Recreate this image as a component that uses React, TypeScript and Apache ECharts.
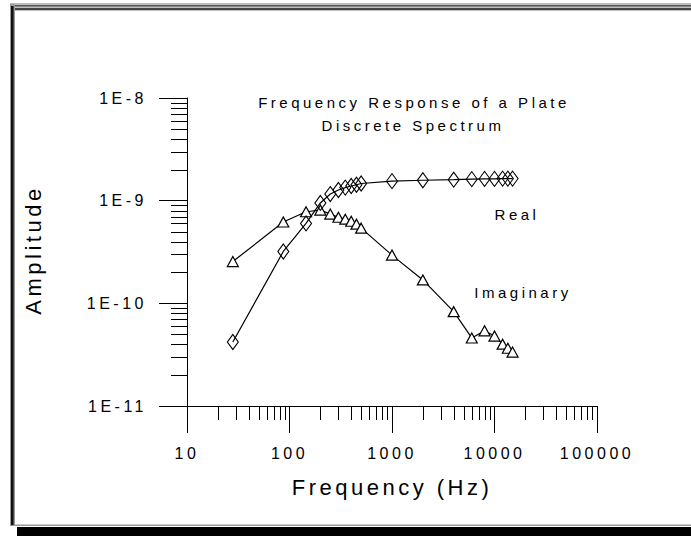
import React, { useEffect, useRef } from "react";
import * as echarts from "echarts";

// Frequencies (Hz) shared by both series
const frequencies = [28, 87, 145, 200, 250, 300, 350, 400, 450, 500, 1000, 2000, 4000, 6000, 8000, 10000, 12000, 13500, 15000];
// Real part amplitude
const realAmp = [4.2e-11, 3.2e-10, 6.0e-10, 9.5e-10, 1.16e-9, 1.27e-9, 1.34e-9, 1.39e-9, 1.43e-9, 1.47e-9, 1.55e-9, 1.58e-9, 1.6e-9, 1.62e-9, 1.63e-9, 1.63e-9, 1.64e-9, 1.64e-9, 1.64e-9];
// Imaginary part amplitude
const imagAmp = [2.55e-10, 6.2e-10, 7.8e-10, 8.1e-10, 7.4e-10, 6.9e-10, 6.6e-10, 6.3e-10, 5.9e-10, 5.4e-10, 2.95e-10, 1.69e-10, 8.3e-11, 4.6e-11, 5.4e-11, 4.8e-11, 4.0e-11, 3.65e-11, 3.35e-11];

const xTickLabels = ["10", "100", "1000", "10000", "100000"];
const yTickLabels = ["1E-11", "1E-10", "1E-9", "1E-8"];
const xDecades = [10, 100, 1000, 10000];
const yDecades = [1e-11, 1e-10, 1e-9];
const minorMultipliers = [2, 3, 4, 5, 6, 7, 8, 9];

const X_MIN = 10;
const X_MAX = 100000;
const Y_MIN = 1e-11;
const Y_MAX = 1e-8;

const FONT = "'Liberation Sans', Arial, sans-serif";

export default function App() {
  const ref = useRef<HTMLDivElement>(null);

  useEffect(() => {
    if (!ref.current) return;
    const chart = echarts.init(ref.current, null, { renderer: "svg" });

    const xMinor: number[][] = [];
    xDecades.forEach((d) => minorMultipliers.forEach((m) => xMinor.push([d * m, Y_MIN])));
    const yMinor: number[][] = [];
    yDecades.forEach((d) => minorMultipliers.forEach((m) => yMinor.push([X_MIN, d * m])));

    const realData = frequencies.map((f, i) => [f, realAmp[i]]);
    const imagData = frequencies.map((f, i) => [f, imagAmp[i]]);

    const crisp = (v: number) => Math.round(v) + 0.5;

    const txt = (text: string, x: number, y: number, size: number, rotation = 0) => ({
      type: "text",
      x,
      y,
      rotation,
      silent: true,
      style: { text, fontSize: size, fontFamily: FONT, fill: "#000", textAlign: "center", textVerticalAlign: "middle" },
    });

    chart.setOption({
      animation: false,
      backgroundColor: "#ffffff",
      textStyle: { fontFamily: FONT, color: "#000" },
      grid: { left: 187, top: 98, width: 410, height: 308, containLabel: false },
      xAxis: {
        type: "log",
        logBase: 10,
        min: X_MIN,
        max: X_MAX,
        axisLine: { onZero: false, lineStyle: { color: "#000", width: 1 } },
        axisTick: { show: true, inside: false, length: 27, lineStyle: { color: "#000", width: 1 } },
        axisLabel: {
          margin: 39,
          fontSize: 16,
          color: "#000",
          fontFamily: FONT,
          formatter: (_v: number, i: number) => xTickLabels[i] ?? "",
        },
        splitLine: { show: false },
        minorTick: { show: false },
      },
      yAxis: {
        type: "log",
        logBase: 10,
        min: Y_MIN,
        max: Y_MAX,
        axisLine: { onZero: false, lineStyle: { color: "#000", width: 1 } },
        axisTick: { show: true, inside: false, length: 28, lineStyle: { color: "#000", width: 1 } },
        axisLabel: {
          margin: 40,
          fontSize: 16,
          color: "#000",
          fontFamily: FONT,
          formatter: (_v: number, i: number) => yTickLabels[i] ?? "",
        },
        splitLine: { show: false },
        minorTick: { show: false },
      },
      graphic: [
        // frame
        { type: "rect", z: -10, silent: true, shape: { x: 10, y: 3, width: 681, height: 8 }, style: { fill: "#bdbdbd" } },
        { type: "rect", z: -9, silent: true, shape: { x: 10, y: 5, width: 681, height: 1.6 }, style: { fill: "#555" } },
        { type: "rect", z: -9, silent: true, shape: { x: 10, y: 8, width: 681, height: 2 }, style: { fill: "#444" } },
        { type: "rect", z: -9, silent: true, shape: { x: 10, y: 4, width: 5, height: 522 }, style: { fill: "#9a9a9a" } },
        { type: "rect", z: -8, silent: true, shape: { x: 11, y: 6, width: 2.6, height: 519 }, style: { fill: "#111" } },
        { type: "rect", z: -9, silent: true, shape: { x: 10, y: 524.5, width: 681, height: 1.5 }, style: { fill: "#999" } },
        { type: "rect", z: -9, silent: true, shape: { x: 17, y: 527, width: 674, height: 9 }, style: { fill: "#000" } },
        // texts
        txt("Frequency Response of a Plate", 414, 102, 15),
        txt("Discrete Spectrum", 413, 125, 15),
        txt("Real", 517, 214, 15),
        txt("Imaginary", 523, 292, 15),
        txt("Frequency (Hz)", 392, 487, 22),
        txt("Amplitude", 33, 250, 22, Math.PI / 2),
      ],
      series: [
        {
          name: "Imaginary",
          type: "line",
          data: imagData,
          symbol: "triangle",
          symbolSize: [11, 10],
          showAllSymbol: true,
          lineStyle: { color: "#000", width: 1.2 },
          itemStyle: { color: "#fff", borderColor: "#000", borderWidth: 1.2 },
          silent: true,
          z: 3,
        },
        {
          name: "Real",
          type: "line",
          data: realData,
          symbol: "diamond",
          symbolSize: [11, 15],
          showAllSymbol: true,
          lineStyle: { color: "#000", width: 1.2 },
          itemStyle: { color: "rgba(255,255,255,0)", borderColor: "#000", borderWidth: 1.1 },
          silent: true,
          z: 4,
        },
        {
          name: "xMinor",
          type: "custom",
          coordinateSystem: "cartesian2d",
          clip: false,
          silent: true,
          data: xMinor,
          renderItem: (_p: any, api: any) => {
            const pt = api.coord([api.value(0), api.value(1)]);
            const x = crisp(pt[0]);
            return { type: "line", shape: { x1: x, y1: pt[1], x2: x, y2: pt[1] + 14 }, style: { stroke: "#000", lineWidth: 1 } };
          },
        },
        {
          name: "yMinor",
          type: "custom",
          coordinateSystem: "cartesian2d",
          clip: false,
          silent: true,
          data: yMinor,
          renderItem: (_p: any, api: any) => {
            const pt = api.coord([api.value(0), api.value(1)]);
            const y = crisp(pt[1]);
            return { type: "line", shape: { x1: pt[0] - 16, y1: y, x2: pt[0], y2: y }, style: { stroke: "#000", lineWidth: 1 } };
          },
        },
      ],
    });

    return () => chart.dispose();
  }, []);

  return (
    <>
      <style>{`.plot-host svg text { letter-spacing: 3.5px; }`}</style>
      <div
        ref={ref}
        className="plot-host"
        style={{ position: "absolute", left: 0, top: 0, width: 691, height: 536, background: "#fff" }}
      />
    </>
  );
}
